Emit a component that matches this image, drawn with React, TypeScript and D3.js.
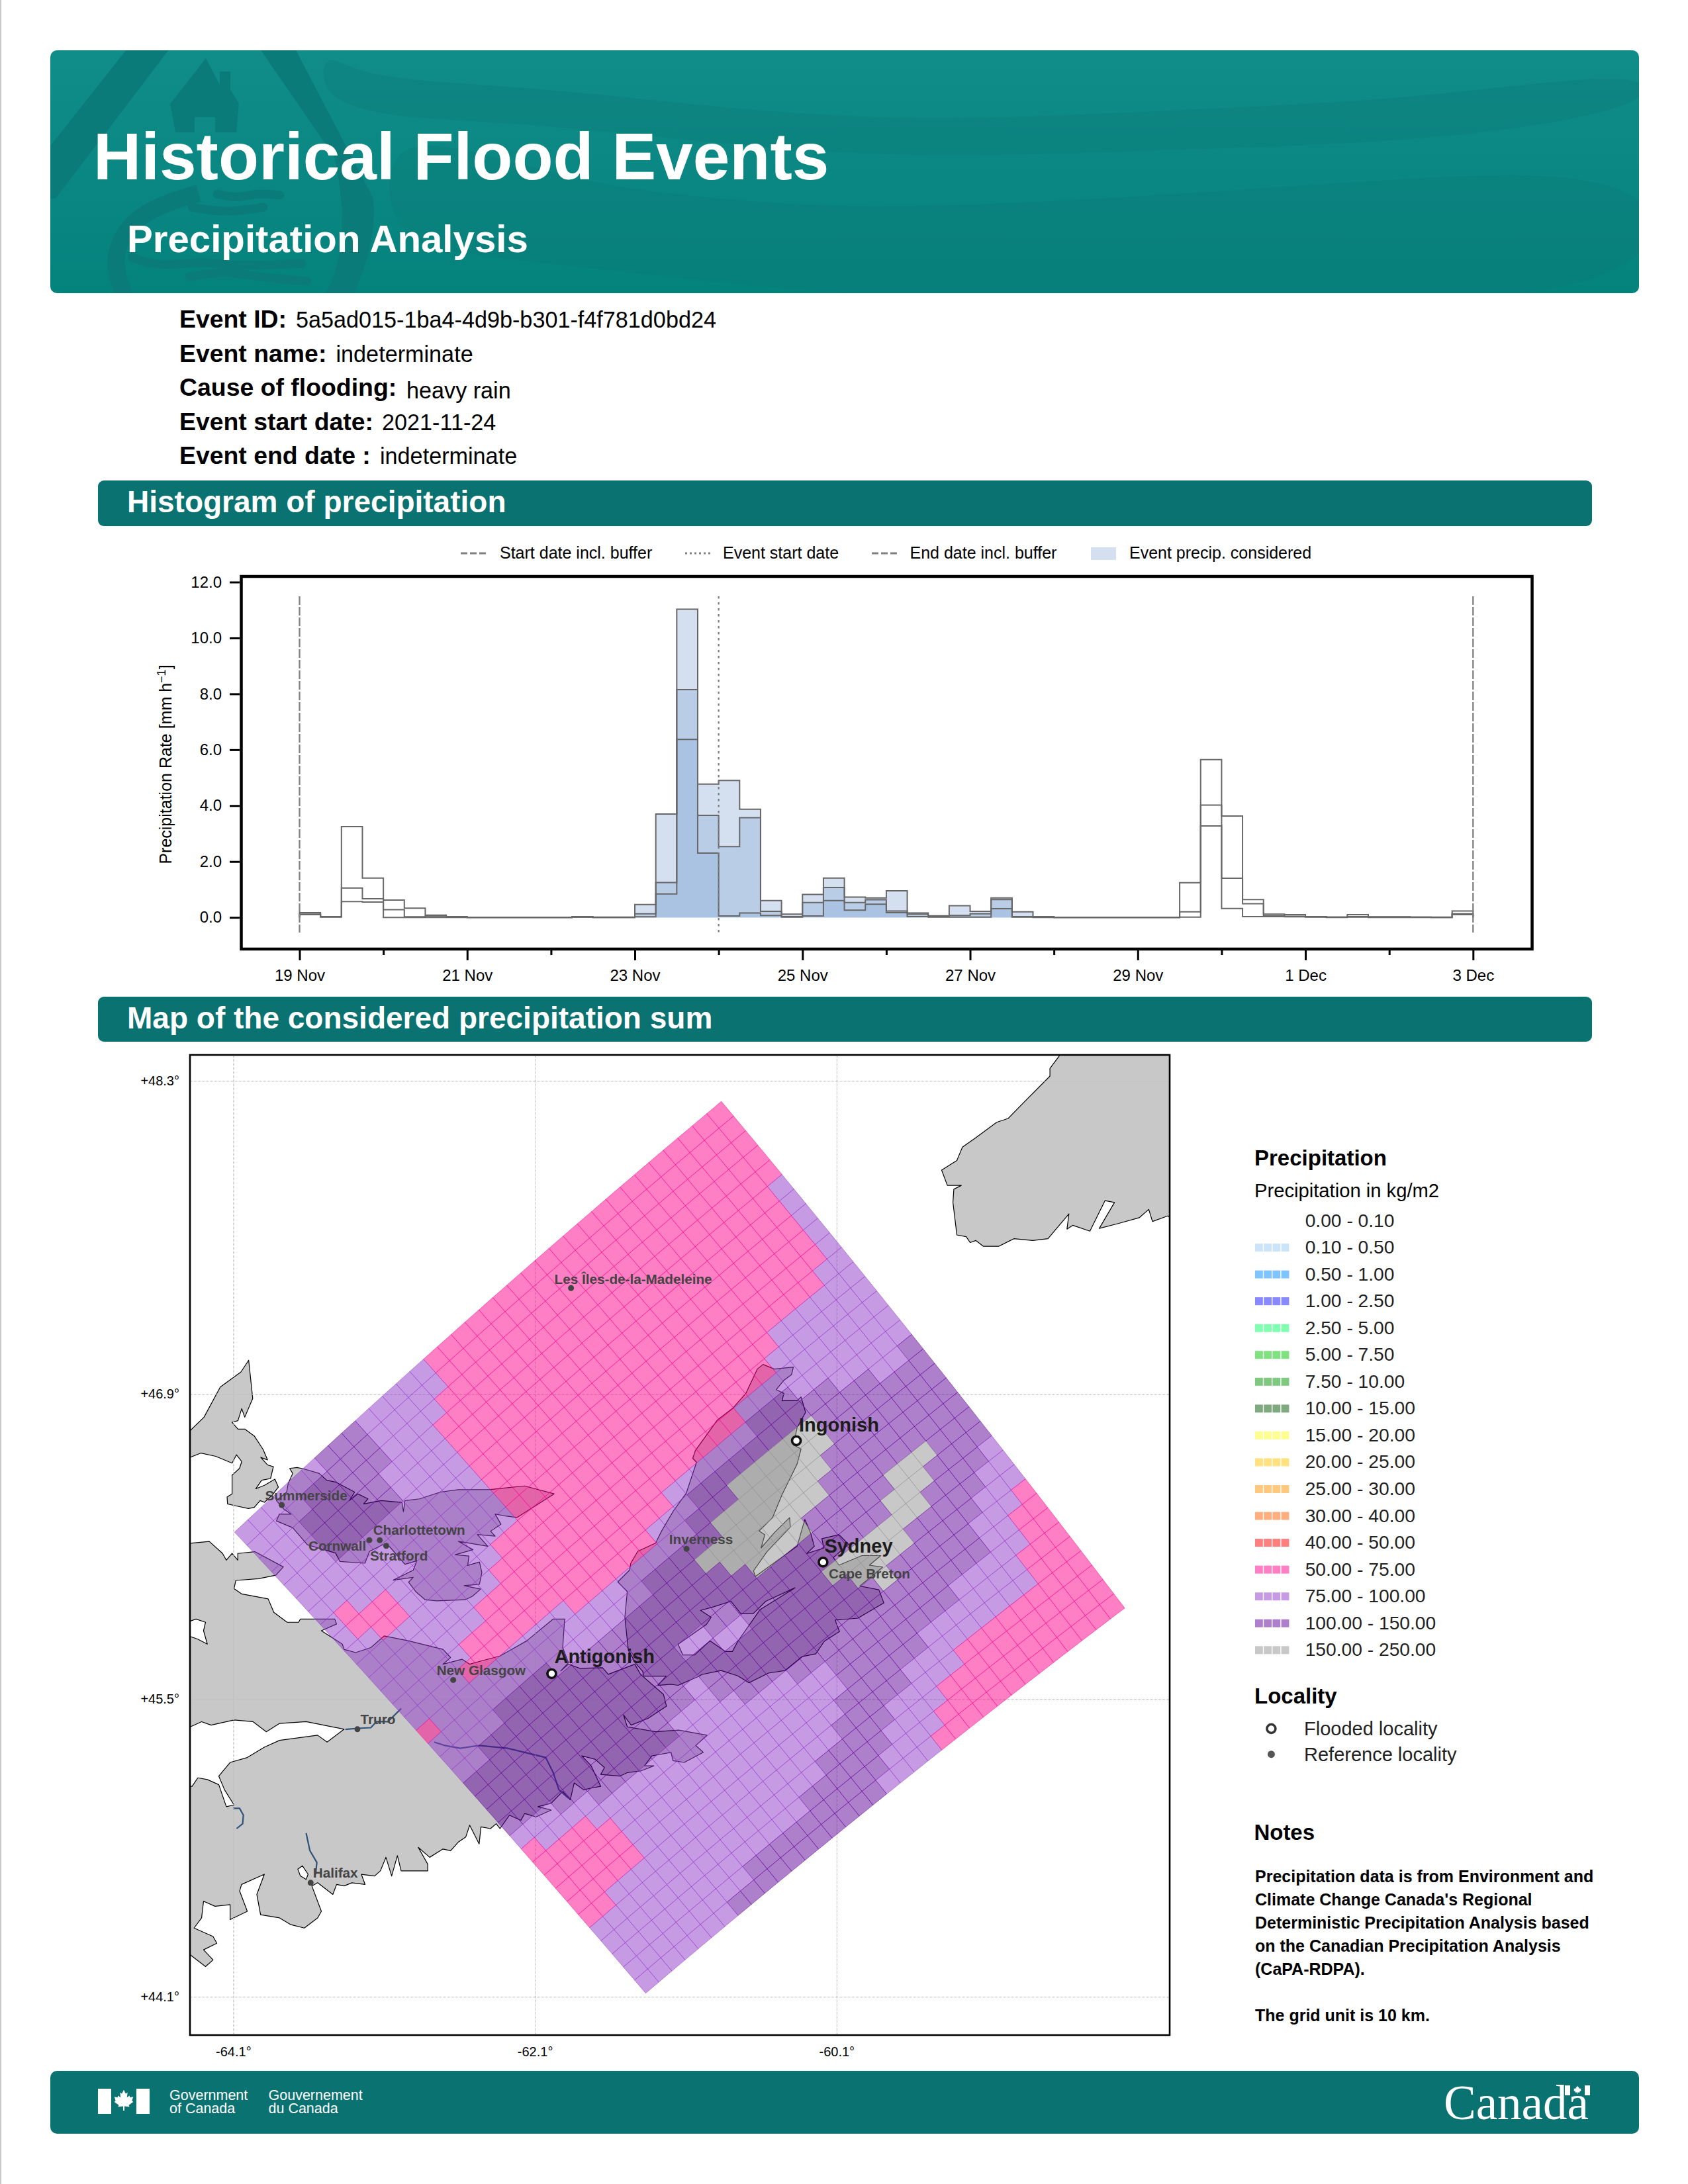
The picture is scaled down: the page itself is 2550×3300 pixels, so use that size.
// @ts-nocheck
import * as d3 from "d3";
import { useEffect, useRef } from "react";

const EVENT_INFO = [
  ["Event ID:", "5a5ad015-1ba4-4d9b-b301-f4f781d0bd24"],
  ["Event name:", "indeterminate"],
  ["Cause of flooding:", "heavy rain"],
  ["Event start date:", "2021-11-24"],
  ["Event end date :", "indeterminate"],
];

// 6-hourly precipitation rate (mm/h), 19 Nov 00h to 3 Dec 00h
const PRECIP_HIGH = [
  0.17, 0.03, 3.25, 1.41, 0.62, 0.33, 0.08, 0.03, 0, 0, 0, 0, 0, 0.03, 0.01, 0.01,
  0.46, 3.7, 11.03, 4.77, 4.9, 3.87, 0.6, 0.12, 0.82, 1.41, 0.73, 0.7, 0.95, 0.16, 0.06, 0.42,
  0.22, 0.7, 0.2, 0.03, 0, 0, 0, 0, 0, 0, 1.24, 5.65, 3.63, 0.64, 0.12, 0.1, 0.03, 0.01, 0.1,
  0.02, 0.02, 0.01, 0.01, 0.23,
];
const PRECIP_MID = [
  0.12, 0.02, 1.05, 0.67, 0.28, 0.02, 0.05, 0.01, 0, 0, 0, 0, 0, 0.01, 0, 0,
  0.13, 1.25, 8.15, 3.65, 2.53, 3.57, 0.22, 0.03, 0.53, 1.07, 0.53, 0.63, 0.23, 0.12, 0.04, 0.07,
  0.13, 0.64, 0.03, 0.01, 0, 0, 0, 0, 0, 0, 0.2, 4.02, 1.4, 0.49, 0.06, 0.04, 0.02, 0.01, 0.03,
  0.01, 0.01, 0.01, 0, 0.13,
];
const PRECIP_LOW = [
  0.1, 0.01, 0.57, 0.55, 0, 0, 0, 0, 0, 0, 0, 0, 0, 0.01, 0, 0,
  0.02, 0.84, 6.37, 2.3, 0.05, 0.16, 0.07, 0.01, 0.05, 0.6, 0.26, 0.47, 0.17, 0.03, 0.01, 0.01,
  0.01, 0.31, 0.01, 0, 0, 0, 0, 0, 0, 0, 0.01, 3.27, 0.32, 0.03, 0.03, 0.02, 0.01, 0, 0.01,
  0, 0, 0, 0, 0.1,
];
const Y_TICKS = [0, 2, 4, 6, 8, 10, 12];

const PRECIP_BINS = [
  "0.00 - 0.10", "0.10 - 0.50", "0.50 - 1.00", "1.00 - 2.50", "2.50 - 5.00", "5.00 - 7.50",
  "7.50 - 10.00", "10.00 - 15.00", "15.00 - 20.00", "20.00 - 25.00", "25.00 - 30.00",
  "30.00 - 40.00", "40.00 - 50.00", "50.00 - 75.00", "75.00 - 100.00", "100.00 - 150.00",
  "150.00 - 250.00",
];
const PRECIP_BREAKS = [0.1, 0.5, 1, 2.5, 5, 7.5, 10, 15, 20, 25, 30, 40, 50, 75, 100, 150];
const PRECIP_COLORS = [
  "#ffffff", "#99c9f5", "#0087ff", "#1313ff", "#00ff5f", "#00c300", "#009100", "#005500",
  "#ffff23", "#ffc300", "#ff9100", "#ff5f00", "#ff0000", "#ff0089", "#8f37c7", "#5d0097", "#919191",
];

// accumulated precipitation per grid row, run-length coded along the row:
// p = 50-75, l = 75-100, d = 100-150, g = 150-250 kg/m2
const CELL_VALUES = { p: 60, l: 85, d: 120, g: 180 };
const GRID_RUNS = [
  "5p11l7d3l9p",
  "10p7l7d3l8p",
  "11p6l8d4l6p",
  "11p5l5d1g4d5l4p",
  "11p5l5d2g5d3l4p",
  "11p4l6d3g4d3l4p",
  "12p3l7d2g4d3l4p",
  "13p1l2d2g5d2g4d2l4p",
  "13p1l2d3g4d2g4d2l4p",
  "13p1l2d4g3d3g3d3l3p",
  "14p1l1d4g3d2g5d2l3p",
  "14p1l1d5g2d1g6d3l2p",
  "14p1l1d5g10d3l1p",
  "14p1l2d4g10d4l",
  "14p1l2d4g11d3l",
  "14p2l2d2g7d2l4d2l",
  "15p2l1d1g8d3l4d1l",
  "15p2l5d1l3d5l4d",
  "16p1l5d1l3d5l4d",
  "16p1l4d1l4d6l3d",
  "16p2l3d1l3d7l3d",
  "2l14p2l5d10l2d",
  "3l13p2l6d9l2d",
  "10l6p2l6d9l2d",
  "10l5p3l7d8l2d",
  "11l4p3l7d8l2d",
  "3d9l3p3l7d9l1d",
  "5d7l3p2l8d9l1d",
  "5d8l2p2l8d10l",
  "1l4d8l2p2l8d10l",
  "1l4d9l1p2l7d2l3p6l",
  "2l3d3l2p8l6d1l4p6l",
  "8l2p8l5d2l4p6l",
  "7l2p10l4d2l5p5l",
  "15l1p3l4d1l6p5l",
];

// polar stereographic plane the grid is regular in
const GRID_CENTER = [0.32509, 0.23732];
const GRID_STEP_U = [0.0008397, -0.0000587];
const GRID_STEP_V = [0.0000589, 0.000839];
const GRID_SIZE = 35;

const LONGITUDES = [-64.1, -62.1, -60.1];
const LATITUDES = [48.3, 46.9, 45.5, 44.1];

// coastlines, [lon, lat]
const COAST_GASPE = [
  [-64.5, 46.735], [-64.39, 46.735], [-64.296, 46.797], [-64.188, 46.934], [-64.051, 47.002], [-64, 47.055],
  [-63.973, 46.882], [-64.026, 46.797], [-64.046, 46.836], [-64.071, 46.781], [-64.11, 46.774], [-64.071, 46.743],
  [-64.026, 46.743], [-63.963, 46.712], [-63.904, 46.65], [-63.875, 46.603], [-63.92, 46.614], [-63.875, 46.58],
  [-63.836, 46.572], [-63.855, 46.518], [-63.914, 46.51], [-63.953, 46.471], [-63.895, 46.487], [-63.826, 46.515],
  [-63.803, 46.479], [-63.846, 46.44], [-63.895, 46.409], [-63.924, 46.417], [-63.963, 46.386], [-64.002, 46.381],
  [-64.091, 46.394], [-64.14, 46.402], [-64.143, 46.433], [-64.11, 46.448], [-64.11, 46.533], [-64.061, 46.564],
  [-64.046, 46.595], [-64.081, 46.626], [-64.11, 46.588], [-64.218, 46.619], [-64.316, 46.634], [-64.39, 46.614],
  [-64.5, 46.614],
];
const COAST_PEI = [
  [-63.738, 46.495], [-63.708, 46.541], [-63.728, 46.564], [-63.679, 46.568], [-63.63, 46.561], [-63.532, 46.541],
  [-63.483, 46.51], [-63.424, 46.502], [-63.297, 46.456], [-63.332, 46.417], [-63.277, 46.448], [-63.209, 46.425],
  [-63.238, 46.402], [-63.121, 46.417], [-62.984, 46.409], [-62.974, 46.366], [-62.964, 46.417], [-62.866, 46.425],
  [-62.729, 46.456], [-62.611, 46.467], [-62.396, 46.468], [-62.171, 46.484], [-61.975, 46.448], [-62.22, 46.34],
  [-62.298, 46.347], [-62.366, 46.355], [-62.327, 46.309], [-62.396, 46.277], [-62.366, 46.254], [-62.484, 46.262],
  [-62.415, 46.208], [-62.611, 46.231], [-62.513, 46.192], [-62.631, 46.169], [-62.54, 46.163], [-62.548, 46.12],
  [-62.47, 46.136], [-62.454, 46.087], [-62.47, 46.033], [-62.572, 46.027], [-62.462, 46.011], [-62.517, 45.978],
  [-62.564, 45.962], [-62.752, 45.957], [-62.83, 45.962], [-62.893, 46], [-62.94, 46.043], [-62.909, 46.065],
  [-63.042, 46.052], [-62.909, 46.098], [-62.885, 46.141], [-62.964, 46.125], [-63.066, 46.206], [-63.111, 46.215],
  [-63.199, 46.184], [-63.229, 46.13], [-63.395, 46.138], [-63.424, 46.177], [-63.611, 46.215], [-63.708, 46.293],
  [-63.816, 46.324], [-63.797, 46.355], [-63.718, 46.355], [-63.767, 46.378], [-63.816, 46.417], [-63.748, 46.456],
];
const COAST_CAPE_BRETON = [
  [-61.483, 45.729], [-61.506, 45.881], [-61.49, 46], [-61.553, 46.044], [-61.475, 46.098], [-61.467, 46.13],
  [-61.42, 46.185], [-61.302, 46.223], [-61.263, 46.277], [-61.185, 46.369], [-61.099, 46.451], [-61.031, 46.592],
  [-61.056, 46.61], [-61.039, 46.645], [-60.893, 46.784], [-60.792, 46.837], [-60.704, 46.905], [-60.628, 47.015],
  [-60.59, 47.036], [-60.515, 47.015], [-60.389, 47.024], [-60.401, 46.99], [-60.452, 46.964], [-60.502, 46.922],
  [-60.452, 46.905], [-60.464, 46.872], [-60.364, 46.872], [-60.338, 46.889], [-60.308, 46.819], [-60.364, 46.749],
  [-60.389, 46.671], [-60.338, 46.653], [-60.364, 46.584], [-60.414, 46.514], [-60.464, 46.444], [-60.527, 46.339],
  [-60.616, 46.278], [-60.578, 46.261], [-60.603, 46.2], [-60.515, 46.27], [-60.414, 46.339], [-60.409, 46.296],
  [-60.565, 46.182], [-60.653, 46.095], [-60.641, 46.069], [-60.364, 46.208], [-60.313, 46.331], [-60.275, 46.27],
  [-60.25, 46.208], [-60.301, 46.174], [-60.187, 46.2], [-60.2, 46.243], [-60.086, 46.261], [-60.023, 46.217],
  [-60.124, 46.156], [-60.086, 46.121], [-59.935, 46.165], [-59.809, 46.165], [-59.885, 46.121], [-59.797, 46.112],
  [-59.948, 46.025], [-59.822, 46.008], [-59.789, 45.947], [-59.961, 45.877], [-60.112, 45.868], [-60.083, 45.815],
  [-60.184, 45.77], [-60.24, 45.712], [-60.332, 45.699], [-60.443, 45.635], [-60.554, 45.623], [-60.683, 45.578],
  [-60.757, 45.61], [-60.868, 45.635], [-60.997, 45.616], [-61.012, 45.609], [-61.153, 45.566], [-61.2, 45.571],
  [-61.287, 45.566], [-61.232, 45.609], [-61.381, 45.609], [-61.388, 45.631], [-61.435, 45.669],
];
const LAKE_BRAS_DOR = [
  [-61.004, 45.913], [-60.934, 45.881], [-60.965, 45.848], [-61.153, 45.756], [-61.122, 45.707], [-61.044, 45.707],
  [-60.942, 45.772], [-60.84, 45.723], [-60.793, 45.723], [-60.757, 45.77], [-60.609, 45.917], [-60.378, 46.017],
  [-60.572, 45.955], [-60.655, 45.898], [-60.738, 45.898], [-60.803, 45.955], [-60.914, 45.93],
];
const COAST_MAINLAND = [
  [-64.5, 46.214], [-64.261, 46.23], [-64.173, 46.175], [-64.148, 46.144], [-64.11, 46.175], [-64.072, 46.144],
  [-64.072, 46.175], [-63.959, 46.183], [-63.77, 46.113], [-63.82, 46.075], [-63.934, 46.059], [-64.085, 46.051],
  [-64.097, 46.013], [-64.047, 45.989], [-63.871, 45.966], [-63.833, 45.904], [-63.745, 45.858], [-63.669, 45.858],
  [-63.657, 45.873], [-63.43, 45.873], [-63.417, 45.85], [-63.518, 45.819], [-63.379, 45.757], [-63.367, 45.733],
  [-63.291, 45.718], [-63.19, 45.741], [-63.102, 45.795], [-62.938, 45.772], [-62.712, 45.733], [-62.661, 45.695],
  [-62.712, 45.664], [-62.586, 45.687], [-62.535, 45.664], [-62.46, 45.679], [-62.334, 45.702], [-62.157, 45.772],
  [-61.981, 45.873], [-61.905, 45.873], [-61.918, 45.741], [-61.88, 45.671], [-61.931, 45.633], [-61.88, 45.664],
  [-61.805, 45.645], [-61.654, 45.648], [-61.616, 45.617], [-61.44, 45.664], [-61.402, 45.617], [-61.25, 45.524],
  [-61.23, 45.469], [-61.351, 45.413], [-61.464, 45.381], [-61.515, 45.429], [-61.49, 45.373], [-61.301, 45.35],
  [-61.15, 45.358], [-60.961, 45.334], [-61.036, 45.286], [-60.986, 45.254], [-61.112, 45.207], [-61.187, 45.215],
  [-61.2, 45.254], [-61.326, 45.238], [-61.376, 45.191], [-61.313, 45.191], [-61.402, 45.167], [-61.49, 45.159],
  [-61.54, 45.143], [-61.666, 45.151], [-61.641, 45.183], [-61.704, 45.222], [-61.792, 45.238], [-61.729, 45.191],
  [-61.666, 45.095], [-61.729, 45.087], [-61.779, 45.079], [-61.842, 45.111], [-61.868, 45.032], [-61.918, 45.071],
  [-61.994, 45.016], [-62.082, 45], [-61.994, 44.984], [-62.094, 44.952], [-62.17, 44.968], [-62.195, 44.936],
  [-62.271, 44.96], [-62.334, 44.897], [-62.359, 44.92], [-62.397, 44.897], [-62.46, 44.905], [-62.472, 44.825],
  [-62.535, 44.913], [-62.561, 44.857], [-62.611, 44.833], [-62.661, 44.793], [-62.712, 44.801], [-62.8, 44.762],
  [-62.876, 44.809], [-62.813, 44.73], [-62.813, 44.698], [-62.901, 44.698], [-62.989, 44.698], [-63.014, 44.77],
  [-63.052, 44.674], [-63.09, 44.762], [-63.127, 44.698], [-63.165, 44.674], [-63.253, 44.682], [-63.228, 44.634],
  [-63.316, 44.642], [-63.367, 44.627], [-63.417, 44.634], [-63.442, 44.587], [-63.543, 44.642], [-63.581, 44.627],
  [-63.518, 44.507], [-63.543, 44.476], [-63.631, 44.428], [-63.72, 44.444], [-63.795, 44.476], [-63.921, 44.491],
  [-63.946, 44.587], [-63.896, 44.682], [-64.047, 44.634], [-64.06, 44.603], [-64.009, 44.507], [-64.123, 44.468],
  [-64.123, 44.539], [-64.223, 44.531], [-64.299, 44.555], [-64.312, 44.476], [-64.362, 44.428], [-64.236, 44.388],
  [-64.211, 44.356], [-64.299, 44.325], [-64.236, 44.277], [-64.286, 44.245], [-64.387, 44.301], [-64.5, 44.3],
  [-64.5, 45.095], [-64.375, 45.095], [-64.337, 45.135], [-64.274, 45.127], [-64.198, 45.103], [-64.148, 45],
  [-64.097, 45.008], [-64.16, 45.079], [-64.198, 45.143], [-64.123, 45.207], [-64.009, 45.23], [-63.896, 45.278],
  [-63.795, 45.31], [-63.543, 45.334], [-63.48, 45.302], [-63.367, 45.362], [-63.619, 45.397], [-63.795, 45.389],
  [-63.883, 45.35], [-63.971, 45.397], [-64.097, 45.405], [-64.249, 45.381], [-64.312, 45.397], [-64.387, 45.373],
  [-64.5, 45.373],
];
const INLET_SHEDIAC = [
  [-64.5, 45.834], [-64.349, 45.873], [-64.286, 45.858], [-64.299, 45.819], [-64.274, 45.757], [-64.337, 45.78], [-64.5, 45.819],
];
const HARBOUR_HALIFAX = [
  [-63.674, 44.706], [-63.644, 44.722], [-63.606, 44.682], [-63.619, 44.658], [-63.657, 44.674],
];
const COAST_NEWFOUNDLAND = [
  [-58.625, 48.413], [-58.688, 48.357], [-58.688, 48.323], [-58.852, 48.213], [-58.965, 48.136], [-59.041, 48.119],
  [-59.179, 48.051], [-59.268, 48.009], [-59.305, 47.95], [-59.406, 47.907], [-59.368, 47.839], [-59.275, 47.839],
  [-59.325, 47.822], [-59.331, 47.763], [-59.305, 47.618], [-59.243, 47.61], [-59.217, 47.584], [-59.179, 47.593],
  [-59.129, 47.567], [-59.028, 47.567], [-58.927, 47.601], [-58.802, 47.593], [-58.701, 47.601], [-58.562, 47.712],
  [-58.575, 47.644], [-58.537, 47.661], [-58.423, 47.635], [-58.323, 47.771], [-58.26, 47.763], [-58.361, 47.647],
  [-58.235, 47.669], [-58.096, 47.695], [-58.033, 47.732], [-58.008, 47.678], [-57.907, 47.703], [-57.8, 47.65],
  [-57.8, 48.6], [-58.6, 48.6],
];
const RIVERS = [
  [[-63.359, 45.361], [-63.279, 45.366], [-63.19, 45.369], [-63.153, 45.397], [-63.077, 45.397], [-62.989, 45.458]],
  [[-62.77, 45.302], [-62.699, 45.286], [-62.598, 45.273], [-62.472, 45.286], [-62.283, 45.273], [-62.031, 45.23], [-61.981, 45.159], [-61.943, 45.079], [-61.88, 45.04]],
  [[-64.103, 44.992], [-64.06, 44.992], [-64.035, 44.96], [-64.04, 44.92], [-64.08, 44.897]],
  [[-63.619, 44.876], [-63.594, 44.793], [-63.548, 44.738], [-63.556, 44.682]],
];

const LOCALITY_NAMES = [
  "Les Îles-de-la-Madeleine", "Summerside", "Charlottetown", "Cornwall", "Stratford", "Inverness",
  "Cape Breton", "New Glasgow", "Truro", "Halifax", "Sydney", "Ingonish", "Antigonish",
];
const LOCALITY_COORDS = [
  [-61.863, 47.38], [-63.781, 46.397], [-63.131, 46.236], [-63.2, 46.236], [-63.088, 46.21], [-61.097, 46.196],
  [-60.192, 46.135], [-62.644, 45.591], [-63.279, 45.362], [-63.589, 44.642], [-60.192, 46.135], [-60.369, 46.69], [-61.991, 45.62],
];
const FLOODED = ["Sydney", "Ingonish", "Antigonish"];

const LABEL_OFFSETS = {
  "Les Îles-de-la-Madeleine": [-25, -6], Summerside: [-25, -7], Charlottetown: [-10, -8], Cornwall: [-92, 16],
  Stratford: [-24.5, 22], Inverness: [-26.4, -7], "Cape Breton": [8.6, 24.7], "New Glasgow": [-25, -7],
  Truro: [4.6, -7.4], Halifax: [3.4, -7.7], Sydney: [2, -14], Ingonish: [4, -14], Antigonish: [4, -15.6],
};

const NOTES = [
  "Precipitation data is from Environment and",
  "Climate Change Canada's Regional",
  "Deterministic Precipitation Analysis based",
  "on the Canadian Precipitation Analysis",
  "(CaPA-RDPA).",
  "",
  "The grid unit is 10 km.",
];

const SANS = "'Liberation Sans', Arial, sans-serif";
const TEAL = "#0b7272";
const LEAF = "M0,-17 L3,-11 L6,-13 L5,-5 L9,-8 L10,-5 L15,-6 L13,0 L15,2 L8,7 L9,10 L1,9 L1,16 L-1,16 L-1,9 L-9,10 L-8,7 L-15,2 L-13,0 L-15,-6 L-10,-5 L-9,-8 L-5,-5 L-6,-13 L-3,-11 Z";

export default function App() {
  const svgRef = useRef();

  useEffect(() => {
    const svg = d3.select(svgRef.current);
    svg.selectAll("*").remove();
    svg.attr("font-family", SANS);

    const addText = (g, x, y, str, size, opts = {}) =>
      g
        .append("text")
        .attr("x", x)
        .attr("y", y)
        .attr("font-size", size)
        .attr("font-weight", opts.bold ? "bold" : "normal")
        .attr("fill", opts.fill || "#000")
        .attr("text-anchor", opts.anchor || "start")
        .text(str);

    svg.append("rect").attr("width", 2550).attr("height", 3300).attr("fill", "#fff");
    svg.append("rect").attr("width", 2).attr("height", 3300).attr("fill", "#c9c9c9");

    // banner
    const defs = svg.append("defs");
    const grad = defs.append("linearGradient").attr("id", "banner").attr("x1", 0).attr("x2", 0).attr("y1", 0).attr("y2", 1);
    grad.append("stop").attr("offset", 0).attr("stop-color", "#118d89");
    grad.append("stop").attr("offset", 1).attr("stop-color", "#04827c");
    defs.append("clipPath").attr("id", "bannerClip").append("rect").attr("x", 76).attr("y", 76).attr("width", 2400).attr("height", 367).attr("rx", 10);
    defs.append("clipPath").attr("id", "mapClip").append("rect").attr("x", 287).attr("y", 1594).attr("width", 1480).attr("height", 1481);

    const banner = svg.append("g").attr("clip-path", "url(#bannerClip)");
    banner.append("rect").attr("x", 76).attr("y", 76).attr("width", 2400).attr("height", 367).attr("fill", "url(#banner)");
    const wave = d3.line().curve(d3.curveBasisClosed);
    const soft = d3.line().curve(d3.curveBasis);
    const dark = "#0b7b79";
    banner.append("path").attr("fill", dark).attr("opacity", 0.42).attr("d", wave([
      [490, 70], [540, 120], [800, 130], [1100, 165], [1400, 185], [1800, 165], [2150, 150], [2500, 100],
      [2500, 165], [2150, 215], [1800, 225], [1400, 240], [1100, 220], [800, 185], [600, 180], [480, 150],
    ]));
    banner.append("path").attr("fill", dark).attr("opacity", 0.42).attr("d", wave([
      [580, 197], [746, 237], [912, 282], [1078, 300], [1300, 318], [1700, 300], [2100, 270], [2520, 250],
      [2520, 460], [1700, 470], [1200, 440], [900, 405], [700, 385], [585, 360],
    ]));
    banner.append("path").attr("fill", dark).attr("d", "M195,70 L259,70 L84,300 L70,300 L70,228 Z");
    banner.append("path").attr("fill", dark).attr("d", "M390,70 L444,70 L564,300 Q570,370 531,450 L489,450 Q535,370 505,237 Z");
    banner.append("path").attr("fill", "none").attr("stroke", dark).attr("stroke-width", 26).attr("d", soft([[300, 292], [205, 320], [165, 390], [190, 450]]));
    banner.append("path").attr("fill", dark).attr("d", "M311,88 L332,128 L332,108 L348,108 L348,135 L361,157 L357,200 L265,200 L257,157 Z");
    banner.append("rect").attr("x", 294).attr("y", 177).attr("width", 31).attr("height", 23).attr("fill", "#0f8a86");
    [
      [[328, 293], [357, 300], [390, 291], [423, 295]],
      [[290, 313], [340, 322], [398, 313]],
      [[199, 389], [240, 403], [307, 394], [357, 403], [456, 398]],
      [[286, 418], [340, 409], [398, 420], [464, 425]],
    ].forEach((pts) =>
      banner.append("path").attr("fill", "none").attr("stroke", dark).attr("stroke-width", 13).attr("stroke-linecap", "round").attr("d", soft(pts))
    );
    addText(svg, 141, 271, "Historical Flood Events", 100, { bold: true, fill: "#fff" });
    addText(svg, 192, 381, "Precipitation Analysis", 58.2, { bold: true, fill: "#fff" });

    // event details
    const infoY = d3.scalePoint().domain(EVENT_INFO.map((d) => d[0])).range([495, 701]);
    const infoGap = { "Event ID:": 447, "Event name:": 507.5, "Cause of flooding:": 614, "Event start date:": 577, "Event end date :": 574 };
    EVENT_INFO.forEach(([k, v]) => {
      addText(svg, 271, infoY(k), k, 37.4, { bold: true });
      addText(svg, infoGap[k], infoY(k) + (k.startsWith("Cause") ? 4 : 0), v, 34.2);
    });

    const sectionBar = (y, h, label, baseline) => {
      svg.append("rect").attr("x", 148).attr("y", y).attr("width", 2257).attr("height", h).attr("rx", 9).attr("fill", TEAL);
      addText(svg, 192, baseline, label, 46, { bold: true, fill: "#fff" });
    };
    sectionBar(726, 69, "Histogram of precipitation", 774);
    sectionBar(1506, 68, "Map of the considered precipitation sum", 1554);

    // histogram
    const start = Date.UTC(2021, 10, 19);
    const stepMs = 6 * 3600 * 1000;
    const dayMs = 4 * stepMs;
    const x = d3.scaleUtc().domain([new Date(start), new Date(start + 14 * dayMs)]).range([452.5, 2225.3]);
    const y = d3.scaleLinear().domain([0, 12]).range([1386.2, 879.5]);
    const hist = svg.append("g");

    const bins = (vals) => vals.map((v, i) => ({ t: new Date(start + i * stepMs), v }));
    const area = d3.area().curve(d3.curveStepAfter).x((d) => x(d.t)).y0(y(0)).y1((d) => y(d.v));
    const fills = [[PRECIP_HIGH, "#d4dff0"], [PRECIP_MID, "#b9cde7"], [PRECIP_LOW, "#aac3e3"]];
    fills.forEach(([vals, color]) => {
      const pts = bins(vals).slice(16, 36);
      pts[pts.length - 1] = { t: pts[pts.length - 1].t, v: pts[pts.length - 2].v };
      hist.append("path").attr("d", area(pts)).attr("fill", color);
    });

    const outline = d3.line().curve(d3.curveStepAfter).x((d) => x(d.t)).y((d) => y(d.v));
    [PRECIP_HIGH, PRECIP_MID, PRECIP_LOW].forEach((vals) => {
      const pts = bins(vals);
      const end = new Date(start + vals.length * stepMs);
      const full = [{ t: pts[0].t, v: 0 }, ...pts, { t: end, v: vals[vals.length - 1] }, { t: end, v: 0 }];
      hist.append("path").attr("d", outline(full)).attr("fill", "none").attr("stroke", "#676767").attr("stroke-width", 2);
    });

    const marks = [[start, "13 3"], [start + 5 * dayMs, "3.5 5.5"], [start + 14 * dayMs, "13 3"]];
    marks.forEach(([t, dash]) =>
      hist.append("line").attr("x1", x(t)).attr("x2", x(t)).attr("y1", 901).attr("y2", 1409).attr("stroke", "#808080").attr("stroke-width", 2.3).attr("stroke-dasharray", dash)
    );
    hist.append("rect").attr("x", 364.5).attr("y", 871).attr("width", 1950).attr("height", 563).attr("fill", "none").attr("stroke", "#000").attr("stroke-width", 4.5);

    const allDays = d3.range(0, 15).map((d) => new Date(start + d * dayMs));
    const major = allDays.filter((d, i) => i % 2 === 0);
    const minor = allDays.filter((d, i) => i % 2 === 1);
    const styleAxis = (g) => {
      g.select(".domain").remove();
      g.selectAll("line").attr("stroke", "#000").attr("stroke-width", 3);
      g.selectAll("text").attr("font-size", 24).attr("font-family", SANS).attr("fill", "#000");
    };
    hist.append("g").attr("transform", "translate(0,1436)").call(d3.axisBottom(x).tickValues(major).tickFormat(d3.utcFormat("%-d %b")).tickSize(15).tickPadding(14)).call(styleAxis);
    hist.append("g").attr("transform", "translate(0,1436)").call(d3.axisBottom(x).tickValues(minor).tickFormat("").tickSize(7)).call(styleAxis);
    hist.append("g").attr("transform", "translate(362,0)").call(d3.axisLeft(y).tickValues(Y_TICKS).tickFormat(d3.format(".1f")).tickSize(15).tickPadding(12)).call(styleAxis);

    const yLabel = svg.append("text").attr("transform", "translate(259,1155) rotate(-90)").attr("text-anchor", "middle").attr("font-size", 25).text("Precipitation Rate [mm h");
    yLabel.append("tspan").attr("dy", -9).attr("font-size", 18).text("−1");
    yLabel.append("tspan").attr("dy", 9).text("]");

    // histogram legend
    const lineKeys = [[696, 755, "Start date incl. buffer", "10 4"], [1035, 1092, "Event start date", "3 4"], [1317, 1374.5, "End date incl. buffer", "10 4"]];
    lineKeys.forEach(([x0, tx, label, dash]) => {
      svg.append("line").attr("x1", x0).attr("x2", x0 + 39).attr("y1", 836).attr("y2", 836).attr("stroke", "#808080").attr("stroke-width", 3).attr("stroke-dasharray", dash);
      addText(svg, tx, 844, label, 25);
    });
    svg.append("rect").attr("x", 1648).attr("y", 827).attr("width", 38).attr("height", 19).attr("fill", "#d4dff0");
    addText(svg, 1706, 844, "Event precip. considered", 25);

    // map
    const mercator = d3.geoMercator().scale(13056).center([-62.1, 45.5]).translate([808.6, 2568]);
    const polar = d3.geoStereographic().rotate([115, -90]).scale(1).translate([0, 0]);
    const cellColor = d3.scaleThreshold().domain(PRECIP_BREAKS).range(PRECIP_COLORS);
    const ring = d3.line().curve(d3.curveLinearClosed);
    const toPath = (coords) => ring(coords.map((c) => mercator(c)));

    const map = svg.append("g").attr("clip-path", "url(#mapClip)");
    [
      [COAST_GASPE],
      [COAST_PEI],
      [COAST_CAPE_BRETON, LAKE_BRAS_DOR],
      [COAST_MAINLAND, INLET_SHEDIAC, HARBOUR_HALIFAX],
      [COAST_NEWFOUNDLAND],
    ].forEach((rings) =>
      map.append("path").attr("d", rings.map(toPath).join("")).attr("fill", "#c8c8c8").attr("fill-rule", "evenodd").attr("stroke", "#000").attr("stroke-width", 1.2).attr("stroke-linejoin", "round")
    );
    RIVERS.forEach((r) =>
      map.append("path").attr("d", d3.line()(r.map((c) => mercator(c)))).attr("fill", "none").attr("stroke", "#2f5278").attr("stroke-width", 2.2)
    );

    const gridLines = map.append("g").attr("stroke", "#bdbdbd").attr("stroke-width", 1.4).attr("stroke-dasharray", "1 1");
    LONGITUDES.forEach((lon) => {
      const px = mercator([lon, 45.5])[0];
      gridLines.append("line").attr("x1", px).attr("x2", px).attr("y1", 1594).attr("y2", 3075);
    });
    LATITUDES.forEach((lat) => {
      const py = mercator([-62.1, lat])[1];
      gridLines.append("line").attr("x1", 287).attr("x2", 1767).attr("y1", py).attr("y2", py);
    });

    const corner = (u, v) => {
      const half = GRID_SIZE / 2;
      const px = GRID_CENTER[0] + (u - half) * GRID_STEP_U[0] + (v - half) * GRID_STEP_V[0];
      const py = GRID_CENTER[1] + (u - half) * GRID_STEP_U[1] + (v - half) * GRID_STEP_V[1];
      return mercator(polar.invert([px, py]));
    };
    const cells = [];
    GRID_RUNS.forEach((runs, v) => {
      let u = 0;
      for (const [, n, code] of runs.matchAll(/(\d+)([pldg])/g)) {
        for (let k = 0; k < +n; k++, u++) cells.push({ u, v, value: CELL_VALUES[code] });
      }
    });
    map
      .append("g")
      .selectAll("path")
      .data(cells)
      .join("path")
      .attr("d", (d) => ring([corner(d.u, d.v), corner(d.u + 1, d.v), corner(d.u + 1, d.v + 1), corner(d.u, d.v + 1)]))
      .attr("fill", (d) => cellColor(d.value))
      .attr("fill-opacity", 0.5)
      .attr("stroke", (d) => cellColor(d.value))
      .attr("stroke-opacity", 0.5)
      .attr("stroke-width", 1);

    // localities
    const places = LOCALITY_NAMES.map((name, i) => ({ name, xy: mercator(LOCALITY_COORDS[i]), flooded: FLOODED.includes(name) }));
    places.filter((p) => !p.flooded).forEach((p) => {
      map.append("circle").attr("cx", p.xy[0]).attr("cy", p.xy[1]).attr("r", 4.5).attr("fill", "#444");
      addText(map, p.xy[0] + LABEL_OFFSETS[p.name][0], p.xy[1] + LABEL_OFFSETS[p.name][1], p.name, 20.7, { bold: true, fill: "#444" });
    });
    places.filter((p) => p.flooded).forEach((p) => {
      map.append("circle").attr("cx", p.xy[0]).attr("cy", p.xy[1]).attr("r", 6.5).attr("fill", "#fff").attr("stroke", "#111").attr("stroke-width", 3.6);
      addText(map, p.xy[0] + LABEL_OFFSETS[p.name][0], p.xy[1] + LABEL_OFFSETS[p.name][1], p.name, 29, { bold: true, fill: "#1c1c1c" });
    });

    svg.append("rect").attr("x", 287).attr("y", 1594).attr("width", 1480).attr("height", 1481).attr("fill", "none").attr("stroke", "#000").attr("stroke-width", 2.6);
    LONGITUDES.forEach((lon) => addText(svg, mercator([lon, 45.5])[0], 3107, `${lon.toFixed(1)}°`, 20, { anchor: "middle" }));
    LATITUDES.forEach((lat) => addText(svg, 271, mercator([-62.1, lat])[1] + 6, `+${lat.toFixed(1)}°`, 20, { anchor: "end" }));

    // map legend
    addText(svg, 1895, 1761, "Precipitation", 33, { bold: true });
    addText(svg, 1895, 1808.7, "Precipitation in kg/m2", 29.2);
    PRECIP_BINS.forEach((label, i) => {
      const rowY = 1853.5 + i * 40.55;
      addText(svg, 1971.7, rowY, label, 28.2, { fill: "#222" });
      if (i === 0) return;
      d3.range(4).forEach((k) =>
        svg.append("rect").attr("x", 1896 + k * 13.2).attr("y", rowY - 15).attr("width", 11.8).attr("height", 12).attr("fill", PRECIP_COLORS[i]).attr("fill-opacity", 0.5)
      );
    });
    addText(svg, 1895, 2573.8, "Locality", 33, { bold: true });
    svg.append("circle").attr("cx", 1920.4).attr("cy", 2612).attr("r", 6.5).attr("fill", "#fff").attr("stroke", "#333").attr("stroke-width", 3.6);
    addText(svg, 1970, 2622, "Flooded locality", 29, { fill: "#222" });
    svg.append("circle").attr("cx", 1920.4).attr("cy", 2650.7).attr("r", 5.5).attr("fill", "#555");
    addText(svg, 1970, 2660.6, "Reference locality", 29, { fill: "#222" });

    addText(svg, 1894.4, 2780.4, "Notes", 33, { bold: true });
    NOTES.forEach((line, i) => addText(svg, 1896, 2843.6 + i * 35, line, 25, { bold: true }));

    // footer
    svg.append("rect").attr("x", 76).attr("y", 3129).attr("width", 2400).attr("height", 95).attr("rx", 10).attr("fill", TEAL);
    svg.append("rect").attr("x", 148).attr("y", 3156).attr("width", 20).attr("height", 38).attr("fill", "#fff");
    svg.append("rect").attr("x", 206).attr("y", 3156).attr("width", 20).attr("height", 38).attr("fill", "#fff");
    svg.append("path").attr("d", LEAF).attr("transform", "translate(187,3174) scale(0.95)").attr("fill", "#fff");
    addText(svg, 256, 3172.5, "Government", 21.5, { fill: "#fff" });
    addText(svg, 256, 3193, "of Canada", 21.5, { fill: "#fff" });
    addText(svg, 405.5, 3172.5, "Gouvernement", 21.5, { fill: "#fff" });
    addText(svg, 405.5, 3193, "du Canada", 21.5, { fill: "#fff" });
    svg.append("text").attr("x", 2181).attr("y", 3202).attr("font-family", "'Liberation Serif', serif").attr("font-size", 73).attr("fill", "#fff").text("Canada");
    svg.append("rect").attr("x", 2364).attr("y", 3151).attr("width", 8).attr("height", 15).attr("fill", "#fff");
    svg.append("rect").attr("x", 2394).attr("y", 3151).attr("width", 8).attr("height", 15).attr("fill", "#fff");
    svg.append("path").attr("d", LEAF).attr("transform", "translate(2383,3158) scale(0.38)").attr("fill", "#fff");
  }, []);

  return <svg ref={svgRef} width={2550} height={3300} style={{ position: "absolute", left: 0, top: 0, display: "block" }} />;
}
